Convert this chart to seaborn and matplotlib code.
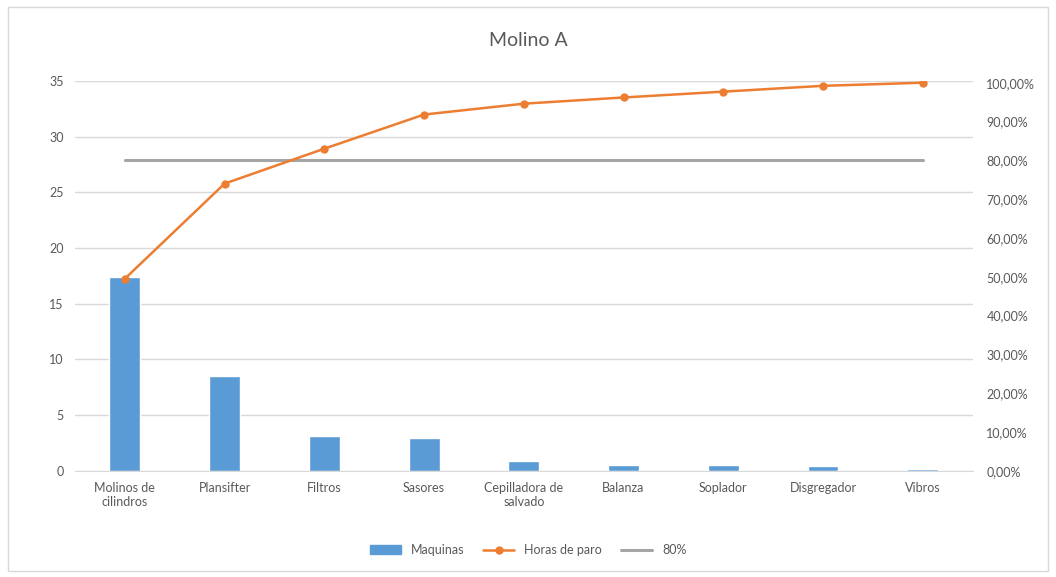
import matplotlib.pyplot as plt
import matplotlib.patches as mpatches
from matplotlib.lines import Line2D
from matplotlib.ticker import FuncFormatter, MultipleLocator
import pandas as pd
import seaborn as sns

categorias = ["Molinos de\ncilindros", "Plansifter", "Filtros", "Sasores",
              "Cepilladora de\nsalvado", "Balanza", "Soplador", "Disgregador", "Vibros"]
maquinas = [17.4, 8.5, 3.15, 2.95, 0.9, 0.55, 0.5, 0.4, 0.2]
horas_paro = [0.495, 0.74, 0.83, 0.918, 0.946, 0.962, 0.977, 0.992, 1.0]
umbral = 0.80

df = pd.DataFrame({"categoria": categorias, "maquinas": maquinas,
                   "acumulado": horas_paro, "umbral": [umbral] * len(categorias)})

AZUL = "#5B9BD5"
NARANJA = "#ED7D31"
GRIS = "#A5A5A5"
TEXTO = "#595959"

sns.set_style("white")
plt.rcParams["font.family"] = ["Lato", "DejaVu Sans"]

fig = plt.figure(figsize=(10.56, 5.77), dpi=100)
ax = fig.add_axes([0.071, 0.184, 0.85, 0.676])

sns.barplot(data=df, x="categoria", y="maquinas", color=AZUL, width=0.31,
            saturation=1, ax=ax)
ax.set_ylim(0, 35)
ax.yaxis.set_major_locator(MultipleLocator(5))
ax.grid(axis="y", color="#D9D9D9", linewidth=1)
ax.set_axisbelow(True)
ax.set_xlabel("")
ax.set_ylabel("")
for side in ["top", "right", "left"]:
    ax.spines[side].set_visible(False)
ax.spines["bottom"].set_color("#D9D9D9")
ax.tick_params(axis="both", length=0, labelsize=9, colors=TEXTO, pad=8)

ax2 = ax.twinx()
sns.lineplot(data=df, x="categoria", y="umbral", color=GRIS, linewidth=2.2,
             sort=False, ax=ax2)
sns.lineplot(data=df, x="categoria", y="acumulado", color=NARANJA, linewidth=1.8,
             marker="o", markersize=6, markeredgewidth=0, sort=False, ax=ax2)
ax2.set_ylim(0, 1.005)
ax2.yaxis.set_major_locator(MultipleLocator(0.1))
ax2.yaxis.set_major_formatter(FuncFormatter(lambda v, p: f"{v * 100:.2f}%".replace(".", ",")))
ax2.set_ylabel("")
for side in ["top", "right", "left", "bottom"]:
    ax2.spines[side].set_visible(False)
ax2.tick_params(axis="y", length=0, labelsize=9, colors=TEXTO, pad=10)
ax.set_xlim(-0.5, len(categorias) - 0.5)

fig.suptitle("Molino A", x=0.5, y=0.945, fontsize=14, color=TEXTO)

handles = [
    mpatches.Patch(color=AZUL, label="Maquinas"),
    Line2D([], [], color=NARANJA, linewidth=1.8, marker="o", markersize=5, label="Horas de paro"),
    Line2D([], [], color=GRIS, linewidth=2.2, label="80%"),
]
fig.legend(handles=handles, loc="center", bbox_to_anchor=(0.5, 0.047), ncol=3,
           frameon=False, fontsize=9, labelcolor=TEXTO, handlelength=2.5, columnspacing=1.5)

borde = mpatches.Rectangle((0.008, 0.01), 0.984, 0.978, transform=fig.transFigure,
                           fill=False, edgecolor="#D9D9D9", linewidth=1)
fig.patches.append(borde)

fig.savefig("out.png", dpi=100)
